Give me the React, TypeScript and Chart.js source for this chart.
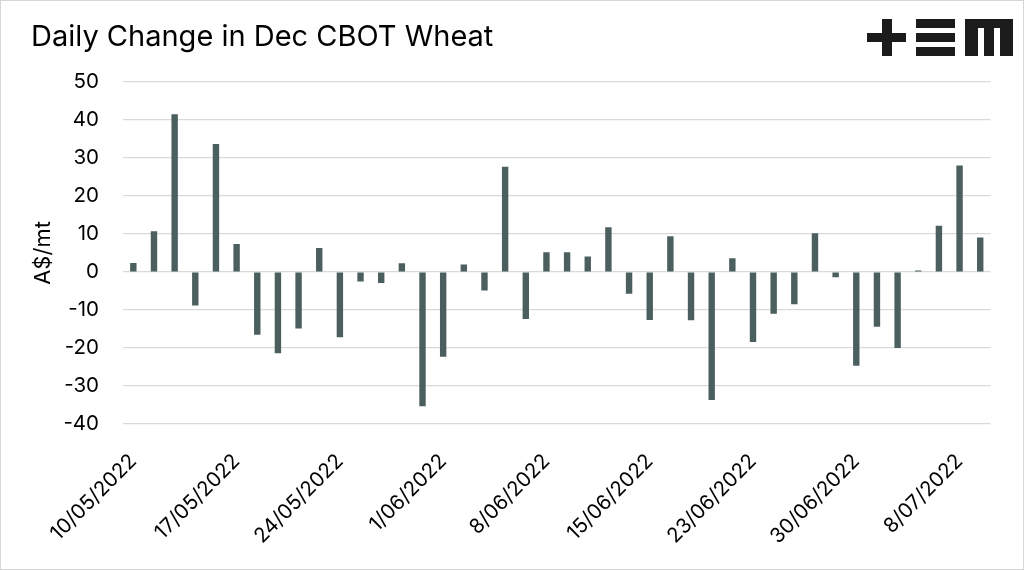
import React, { useEffect, useRef } from "react";
import { Chart, registerables } from "chart.js";

Chart.register(...registerables);

const dates: string[] = [
  "10/05/2022", "11/05/2022", "12/05/2022", "13/05/2022", "16/05/2022",
  "17/05/2022", "18/05/2022", "19/05/2022", "20/05/2022", "23/05/2022",
  "24/05/2022", "25/05/2022", "26/05/2022", "27/05/2022", "31/05/2022",
  "1/06/2022", "2/06/2022", "3/06/2022", "6/06/2022", "7/06/2022",
  "8/06/2022", "9/06/2022", "10/06/2022", "13/06/2022", "14/06/2022",
  "15/06/2022", "16/06/2022", "17/06/2022", "21/06/2022", "22/06/2022",
  "23/06/2022", "24/06/2022", "27/06/2022", "28/06/2022", "29/06/2022",
  "30/06/2022", "1/07/2022", "5/07/2022", "6/07/2022", "7/07/2022",
  "8/07/2022", "11/07/2022",
];

const dailyChange: number[] = [
  2.4, 10.7, 41.5, -8.8, 33.7, 7.4, -16.5, -21.4, -14.9, 6.3,
  -17.2, -2.5, -2.9, 2.3, -35.3, -22.3, 2.0, -4.9, 27.7, -12.4,
  5.2, 5.2, 4.1, 11.8, -5.7, -12.6, 9.4, -12.7, -33.7, 3.6,
  -18.4, -11.0, -8.5, 10.2, -1.4, -24.7, -14.4, -20.0, 0.4, 12.2,
  28.0, 9.1,
];

const yMin = -40;
const yMax = 50;
const yStep = 10;
const labelEvery = 5;

const FONT = "Inter, 'Noto Sans', sans-serif";

export default function App() {
  const canvasRef = useRef<HTMLCanvasElement | null>(null);

  useEffect(() => {
    if (!canvasRef.current) return;
    const chart = new Chart(canvasRef.current, {
      type: "bar",
      data: {
        labels: dates,
        datasets: [
          {
            data: dailyChange,
            backgroundColor: "#4b5f5f",
            barPercentage: 0.31,
            categoryPercentage: 1,
          },
        ],
      },
      options: {
        animation: false,
        responsive: true,
        maintainAspectRatio: false,
        layout: { padding: { left: 29, top: 81, right: 32, bottom: 0 } },
        plugins: {
          legend: { display: false },
          tooltip: { enabled: false },
          title: { display: false },
        },
        scales: {
          x: {
            grid: { display: false, drawTicks: false },
            border: { display: false },
            afterFit: (scale: any) => {
              scale.height = 145;
            },
            ticks: {
              autoSkip: false,
              maxRotation: 45,
              minRotation: 45,
              padding: 25,
              color: "#000",
              font: { family: FONT, size: 20.5 },
              callback: (_v: any, i: number) => (i % labelEvery === 0 ? dates[i] : ""),
            },
          },
          y: {
            min: yMin,
            max: yMax,
            afterFit: (scale: any) => {
              scale.width = 93;
            },
            grid: { color: "#d9d9d9", lineWidth: 1.2, drawTicks: false },
            border: { display: false },
            ticks: {
              stepSize: yStep,
              padding: 24,
              color: "#000",
              font: { family: FONT, size: 20.5 },
            },
            title: {
              display: true,
              text: "A$/mt",
              color: "#000",
              padding: { top: 0, bottom: 0 },
              font: { family: FONT, size: 22 },
            },
          },
        },
      },
    });
    return () => chart.destroy();
  }, []);

  const blk = "#1b1b1b";
  const box = (l: number, t: number, w: number, h: number) => (
    <div style={{ position: "absolute", left: l, top: t, width: w, height: h, background: blk }} />
  );

  return (
    <div
      style={{
        position: "fixed",
        left: 0,
        top: 0,
        width: 1024,
        height: 570,
        boxSizing: "border-box",
        border: "1px solid #d6d6d6",
        background: "#fff",
        overflow: "hidden",
      }}
    >
      <canvas ref={canvasRef} style={{ position: "absolute", left: 0, top: 0, width: "100%", height: "100%" }} />
      <div
        style={{
          position: "absolute",
          left: 30,
          top: 16,
          fontFamily: FONT,
          fontSize: 29,
          color: "#000",
          whiteSpace: "nowrap",
          lineHeight: "38px",
        }}
      >
        Daily Change in Dec CBOT Wheat
      </div>
      {/* logo */}
      {box(866, 32, 39, 9)}
      {box(881, 18, 10, 37)}
      {box(915, 18, 39, 9)}
      {box(915, 32, 39, 9)}
      {box(915, 46, 39, 9)}
      {box(964, 18, 48, 9)}
      {box(964, 18, 13, 37)}
      {box(983, 18, 10, 37)}
      {box(999, 18, 13, 37)}
    </div>
  );
}
